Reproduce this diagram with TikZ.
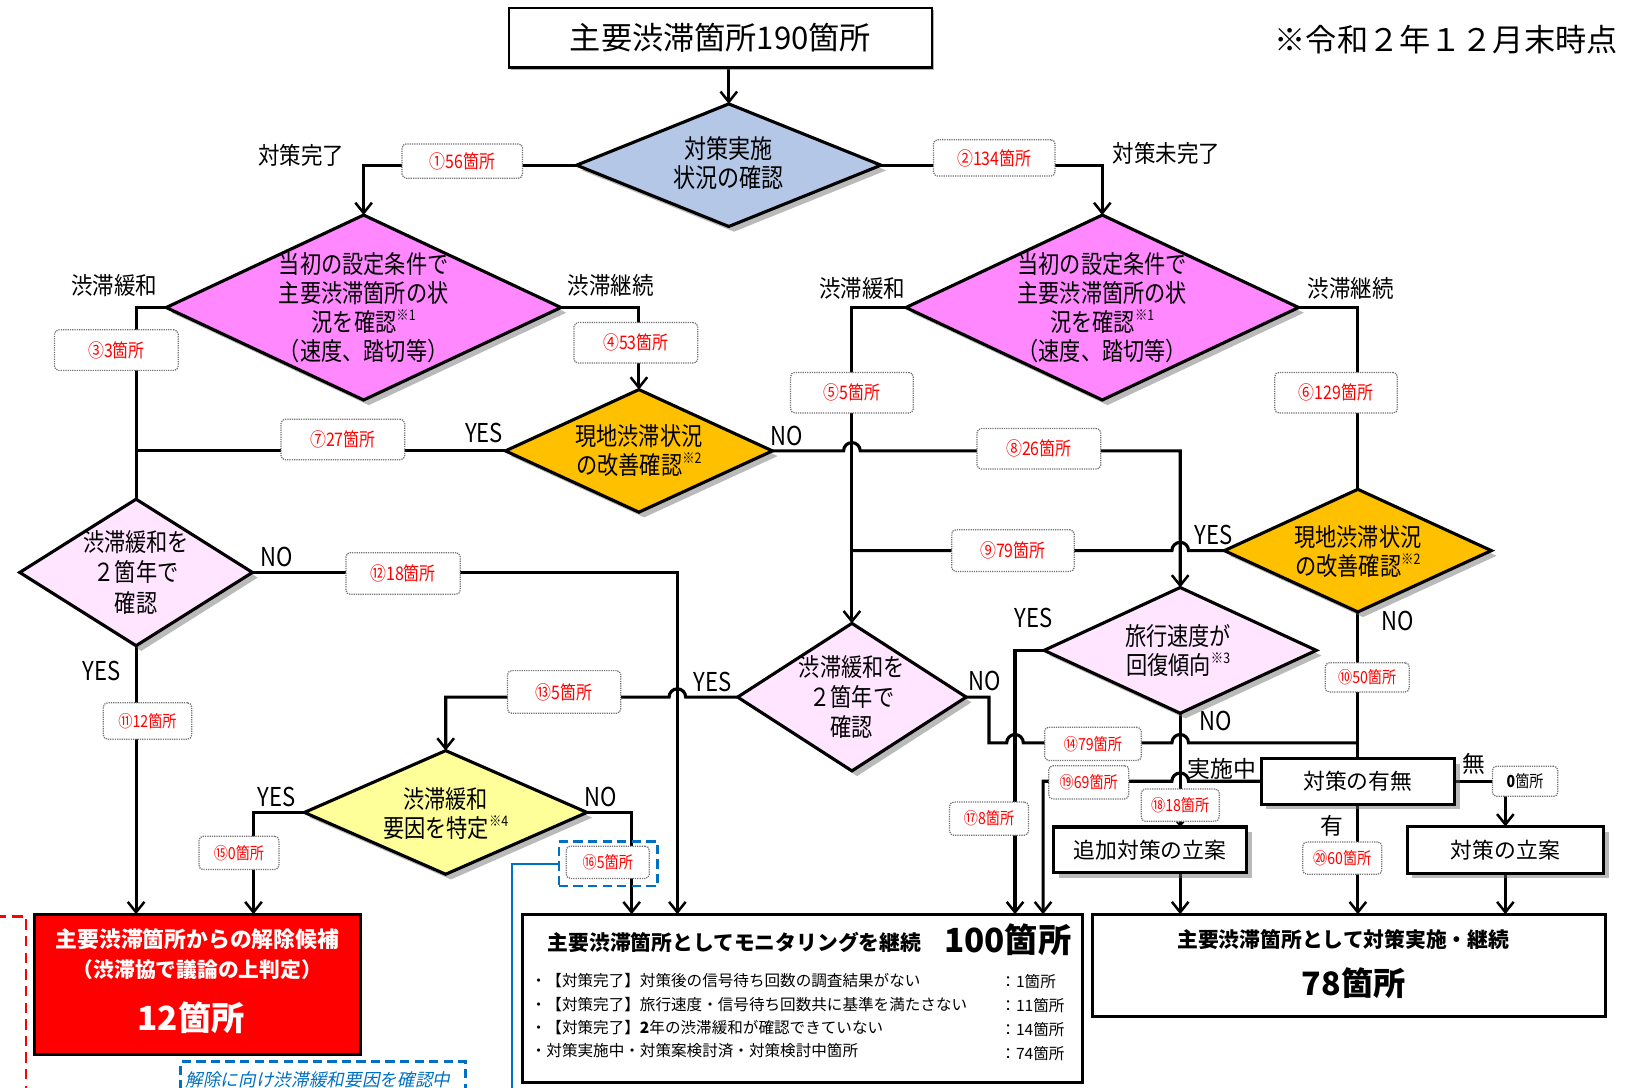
\documentclass[tikz,border=0pt]{standalone}
\usepackage{fontspec}
\setmainfont{Noto Sans CJK JP}
\newfontfamily\cnd[FakeStretch=0.85]{Noto Sans CJK JP}
\newfontfamily\lbf[FakeStretch=0.9]{Noto Sans CJK JP}
\newfontfamily\slt[FakeSlant=0.2]{Noto Sans CJK JP}
\usetikzlibrary{shapes.geometric,arrows.meta,shadows}
\pgfdeclarelayer{bgz}
\pgfdeclarelayer{bgl}
\pgfsetlayers{bgz,bgl,main}
\newcommand\fsz[2]{\fontsize{#1}{#2}\selectfont}
\newcommand\snote[1]{\raisebox{0.45em}{\fsz{14}{14}※#1}}
\definecolor{dblue}{HTML}{B4C7E7}
\definecolor{dmag}{HTML}{FF88FF}
\definecolor{dorg}{HTML}{FFC000}
\definecolor{dpink}{HTML}{FFE5FF}
\definecolor{dyel}{HTML}{FFFF99}
\definecolor{mblue}{HTML}{0070C0}
\begin{document}
\begin{tikzpicture}[x=1pt,y=-1pt,line width=3pt,
  every node/.style={inner sep=0pt,outer sep=0pt},
  arr/.style={-{Straight Barb[length=10pt,width=16pt,line width=2.4pt]}},
  arrs/.style={-{Straight Barb[length=4pt,width=7pt,line width=1.5pt]}},
  shd/.style={drop shadow={shadow xshift=5pt,shadow yshift=-5pt,opacity=.45,fill=black!60}},
  dia/.style={diamond,draw=black,line width=3pt,shd},
  dtxt/.style={align=center,font=\cnd\fsz{24}{28}},
  cnt/.style={draw=black!55,densely dotted,line width=1.2pt,rounded corners=4pt,fill=white,text=red,font=\cnd\fsz{18}{18}},
  cnts/.style={cnt,font=\cnd\fsz{16}{16}},
  lab/.style={font=\lbf\fsz{23}{23}},
  yn/.style={font=\cnd\fsz{25}{25}},
  sbox/.style={draw=black,line width=3pt,fill=white,font=\fsz{21}{21},shd},
  bigbox/.style={draw=black,line width=3pt},
]
\useasboundingbox (0,0) rectangle (1568,1047);
\begin{pgfonlayer}{bgz}
\fill[white] (0,0) rectangle (1568,1047);
\end{pgfonlayer}

% ---- title and note
\node[draw=black,line width=2.2pt,fill=white,minimum width=407pt,minimum height=57pt,font=\fsz{30}{30},
      drop shadow={shadow xshift=2pt,shadow yshift=-2pt,opacity=.5,fill=black!60}] (title) at (693.5,36.5) {主要渋滞箇所190箇所};
\node[font=\fsz{30}{30}] (note) at (1392,38) {※令和２年１２月末時点};

% ---- diamonds
\node[dia,fill=dblue,minimum width=293pt,minimum height=118pt] (D1) at (701.5,159) {};
\node[dtxt,font=\cnd\fsz{25}{28}] (D1t) at (701,157) {対策実施\\状況の確認};
\node[dia,fill=dmag,minimum width=380pt,minimum height=178pt] (D2) at (350,296) {};
\node[dtxt] (D2t) at (350,296) {当初の設定条件で\\主要渋滞箇所の状\\況を確認\snote{1}\\（速度、踏切等）};
\node[dia,fill=dmag,minimum width=378pt,minimum height=178pt] (D3) at (1061,296) {};
\node[dtxt] (D3t) at (1061,296) {当初の設定条件で\\主要渋滞箇所の状\\況を確認\snote{1}\\（速度、踏切等）};
\node[dia,fill=dorg,minimum width=257pt,minimum height=118pt] (D5) at (615,434) {};
\node[dtxt] (D5t) at (615,434) {現地渋滞状況\\の改善確認\snote{2}};
\node[dia,fill=dorg,minimum width=257pt,minimum height=118pt] (D6) at (1307,530) {};
\node[dtxt] (D6t) at (1307,531) {現地渋滞状況\\の改善確認\snote{2}};
\node[dia,fill=dpink,minimum width=224pt,minimum height=141pt] (D4) at (131,551) {};
\node[dtxt,font=\cnd\fsz{24}{29}] (D4t) at (131,551) {渋滞緩和を\\２箇年で\\確認};
\node[dia,fill=dpink,minimum width=220pt,minimum height=142pt] (D7) at (820,671) {};
\node[dtxt,font=\cnd\fsz{24}{29}] (D7t) at (820,671) {渋滞緩和を\\２箇年で\\確認};
\node[dia,fill=dpink,minimum width=262pt,minimum height=121pt] (D8) at (1136,626) {};
\node[dtxt] (D8t) at (1134,626) {旅行速度が\\回復傾向\snote{3}};
\node[dia,fill=dyel,minimum width=272pt,minimum height=119pt] (D9) at (429,782) {};
\node[dtxt] (D9t) at (429,783) {渋滞緩和\\要因を特定\snote{4}};

% ---- small boxes
\node[sbox,minimum width=186pt,minimum height=44pt] (uM) at (1307,752) {対策の有無};
\node[sbox,minimum width=186pt,minimum height=44pt] (addp) at (1107,818) {追加対策の立案};
\node[sbox,minimum width=189pt,minimum height=45pt] (plan) at (1449,818) {対策の立案};

% ---- result boxes
\node[bigbox,fill=red,minimum width=314pt,minimum height=135pt] (rbox) at (190,947.5) {};
\node[font=\bfseries\fsz{21}{21},text=white] (rt1) at (190,904) {主要渋滞箇所からの解除候補};
\node[font=\bfseries\fsz{20}{20},text=white] (rt2) at (190,933) {（渋滞協で議論の上判定）};
\node[font=\bfseries\fsz{32}{32},text=white] (rt3) at (184,980) {12箇所};

\node[bigbox,fill=white,minimum width=539pt,minimum height=162pt] (mbox) at (772.5,961) {};
\node[font=\bfseries\fsz{20}{20}] (mt1) at (707,907) {主要渋滞箇所としてモニタリングを継続};
\node[font=\bfseries\fsz{32}{32}] (mt2) at (970,905) {100箇所};
\node[anchor=west,font=\fsz{15}{15}] (mb1) at (511,944) {・【対策完了】対策後の信号待ち回数の調査結果がない};
\node[anchor=west,font=\fsz{15}{15}] (mb2) at (511,967) {・【対策完了】旅行速度・信号待ち回数共に基準を満たさない};
\node[anchor=west,font=\fsz{15}{15}] (mb3) at (511,989) {・【対策完了】\textbf{2}年の渋滞緩和が確認できていない};
\node[anchor=west,font=\fsz{15}{15}] (mb4) at (511,1011) {・対策実施中・対策案検討済・対策検討中箇所};
\node[anchor=west,font=\fsz{15}{15}] (mc1) at (963,945) {：1箇所};
\node[anchor=west,font=\fsz{15}{15}] (mc2) at (963,968) {：11箇所};
\node[anchor=west,font=\fsz{15}{15}] (mc3) at (963,991) {：14箇所};
\node[anchor=west,font=\fsz{15}{15}] (mc4) at (963,1014) {：74箇所};

\node[bigbox,fill=white,minimum width=493pt,minimum height=98pt] (cbox) at (1298.5,929) {};
\node[font=\bfseries\fsz{20}{20}] (ct1) at (1293,904) {主要渋滞箇所として対策実施・継続};
\node[font=\bfseries\fsz{31}{31}] (ct2) at (1303,946) {78箇所};

% ---- entry points
\coordinate (rA) at (131,880);
\coordinate (rB) at (244,880);
\coordinate (mA) at (608,880);
\coordinate (mB) at (652,880);
\coordinate (mC) at (977,880);
\coordinate (mD) at (1004,880);
\coordinate (cA) at (1136,880);
\coordinate (cB) at (1307,880);
\coordinate (cC) at (1449,880);
\coordinate (j14) at (1307,715);
\coordinate (bend) at (493,1060);

% ---- blue dashed frame around 16
\node[draw=mblue,dashed,dash pattern=on 9pt off 5pt,line width=2.5pt,minimum width=95pt,minimum height=43pt] (bl16) at (585.5,831.5) {};

% ---- connectors
\begin{pgfonlayer}{bgl}
\begin{scope}[line width=3pt]
\draw[arr] (D1.north |- title.south) -- (D1.north);
\draw[arr] (D1.west) -| (D2.north);
\draw[arr] (D1.east) -| (D3.north);
\draw (D2.west) -| (D4.north);
\draw[arr] (D2.east) -| (D5.north);
\draw (D5.west) -- (D5.west -| D4.north);
\draw[arr] (D5.east) -- (812,434) arc[start angle=180,end angle=0,radius=8pt] -- (1136,434) -- (D8.north);
\draw[arr] (D3.west) -| (D7.north);
\draw (D3.east) -| (D6.north);
\draw (D6.west) -- (1144,530) arc[start angle=0,end angle=180,radius=8pt] -- (D6.west -| D7.north);
\draw (D6.south) -- (uM.north);
\draw (D7.east) -- (952,671) -- (952,715) -- (969,715) arc[start angle=180,end angle=0,radius=8pt]
      -- (1128,715) arc[start angle=180,end angle=0,radius=8pt] -- (j14);
\draw[arr] (D8.west) -| (mC);
\draw[arrs] (D8.south) -- (D8.south |- addp.north);
\draw[arr] (D8.south |- addp.south) -- (cA);
\draw[arr] (uM.west) -- (1144,752) arc[start angle=0,end angle=180,radius=8pt] -- (1004,752) -- (mD);
\draw[arr] (uM.south) -- (cB);
\draw[arr] (uM.east) -| (plan.north);
\draw[arr] (plan.south) -- (cC);
\draw[arr] (D4.east) -| (mB);
\draw[arr] (D4.south) -- (rA);
\draw[arr] (D7.west) -- (660,671) arc[start angle=0,end angle=180,radius=8pt] -- (D9.north |- D7.west) -- (D9.north);
\draw[arr] (D9.west) -| (rB);
\draw[arr] (D9.east) -| (mA);
\draw[mblue,line width=2.2pt] (bl16.west) -| (bend);
\end{scope}
\end{pgfonlayer}

% ---- count labels
\node[cnt,minimum width=116pt,minimum height=33pt] (l1) at (445,155) {①56箇所};
\node[cnt,minimum width=117pt,minimum height=35pt] (l2) at (957,152) {②134箇所};
\node[cnt,minimum width=119pt,minimum height=39pt] (l3) at (112,337) {③3箇所};
\node[cnt,minimum width=119pt,minimum height=39pt] (l4) at (612,330) {④53箇所};
\node[cnt,minimum width=118pt,minimum height=39pt] (l5) at (820,378) {⑤5箇所};
\node[cnt,minimum width=118pt,minimum height=39pt] (l6) at (1286,378) {⑥129箇所};
\node[cnt,minimum width=119pt,minimum height=39pt] (l7) at (330,423) {⑦27箇所};
\node[cnt,minimum width=119pt,minimum height=39pt] (l8) at (1000,432) {⑧26箇所};
\node[cnt,minimum width=118pt,minimum height=40pt] (l9) at (975,530) {⑨79箇所};
\node[cnts,minimum width=81pt,minimum height=28pt] (l10) at (1316,652) {⑩50箇所};
\node[cnts,minimum width=85pt,minimum height=35pt] (l11) at (142,694) {⑪12箇所};
\node[cnt,minimum width=110pt,minimum height=40pt] (l12) at (388,552) {⑫18箇所};
\node[cnt,minimum width=109pt,minimum height=41pt] (l13) at (543,666) {⑬5箇所};
\node[cnts,minimum width=93pt,minimum height=32pt] (l14) at (1052,716) {⑭79箇所};
\node[cnts,minimum width=77pt,minimum height=32pt] (l15) at (230,821) {⑮0箇所};
\node[cnts,minimum width=80pt,minimum height=31pt] (l16) at (585,830) {⑯5箇所};
\node[cnts,minimum width=76pt,minimum height=32pt] (l17) at (952,788) {⑰8箇所};
\node[cnts,minimum width=75pt,minimum height=31pt] (l18) at (1136,775) {⑱18箇所};
\node[cnts,minimum width=77pt,minimum height=32pt] (l19) at (1048,753) {⑲69箇所};
\node[cnts,minimum width=76pt,minimum height=31pt] (l20) at (1292,826) {⑳60箇所};
\node[cnts,text=black,minimum width=63pt,minimum height=29pt] (l0) at (1468,752) {\textbf{0}箇所};

% ---- branch labels
\node[lab] (b1) at (290,150) {対策完了};
\node[lab] (b2) at (1123,148) {対策未完了};
\node[lab] (b3) at (110,275) {渋滞緩和};
\node[lab] (b4) at (588,275) {渋滞継続};
\node[lab] (b5) at (830,278) {渋滞緩和};
\node[lab] (b6) at (1300,278) {渋滞継続};
\node[yn] (y5) at (466,417) {YES};
\node[yn] (n5) at (757,420) {NO};
\node[yn] (y6) at (1168,515) {YES};
\node[yn] (n6) at (1345,598) {NO};
\node[yn] (n4) at (266,536) {NO};
\node[yn] (y4) at (98,646) {YES};
\node[yn] (y7) at (686,656) {YES};
\node[yn] (n7) at (948,655) {NO};
\node[yn] (y8) at (995,595) {YES};
\node[yn] (n8) at (1170,694) {NO};
\node[yn] (y9) at (266,767) {YES};
\node[yn] (n9) at (578,767) {NO};
\node[font=\fsz{22}{22}] (k1) at (1176,740) {実施中};
\node[font=\fsz{22}{22}] (k2) at (1419,735) {無};
\node[font=\fsz{22}{22}] (k3) at (1282,795) {有};

% ---- dashed frames at the bottom
\draw[red,line width=2.5pt,dash pattern=on 10pt off 6pt] (-20,882) -- (25,882) -- (25,1060);
\node[draw=mblue,line width=2.5pt,dash pattern=on 9pt off 5pt,minimum width=274pt,minimum height=50pt] (bfr) at (311,1047) {};
\node[text=mblue,font=\slt\fsz{17}{17}] (btx) at (306,1040) {\underline{解除に向け渋滞緩和要因を確認中}};
\end{tikzpicture}
\end{document}
